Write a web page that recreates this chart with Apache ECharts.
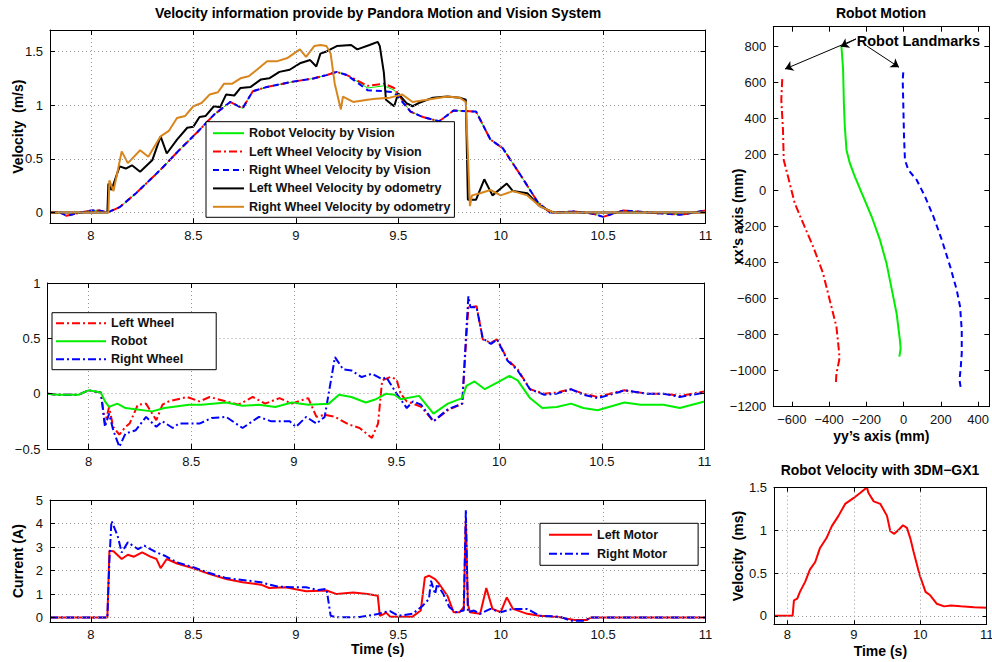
<!DOCTYPE html>
<html><head><meta charset="utf-8">
<script src="https://cdn.jsdelivr.net/npm/echarts@6/dist/echarts.min.js"></script>
<style>html,body{margin:0;padding:0;background:#fff}#c{width:992px;height:662px}</style>
</head><body><div id="c"></div>
<script>
// ---------- DATA ----------
// Top panel: velocity (m/s) vs time (s)
const robotVision = [[7.8,0],[7.85,0],[7.88,-0.03],[7.95,0],[8.0,0.02],[8.04,0.02],[8.08,0],[8.14,0.05],[8.22,0.18],[8.34,0.4],[8.43,0.58],[8.52,0.75],[8.6,0.91],[8.68,1.03],[8.74,0.97],[8.79,1.13],[8.86,1.17],[8.99,1.22],[9.09,1.25],[9.15,1.28],[9.2,1.31],[9.25,1.28],[9.35,1.16],[9.43,1.18],[9.48,1.14],[9.56,0.94],[9.62,0.89],[9.7,0.85],[9.77,0.95],[9.88,0.94],[9.95,0.68],[10.01,0.6],[10.1,0.34],[10.18,0.1],[10.24,0],[10.36,0.01],[10.45,-0.01],[10.5,-0.04],[10.6,0.02],[10.72,0],[10.88,-0.02],[11,0.02]];
const leftVision = [[7.8,0],[7.85,0],[7.88,-0.03],[7.95,0],[8.0,0.02],[8.04,0.02],[8.08,0],[8.14,0.05],[8.22,0.18],[8.34,0.4],[8.43,0.58],[8.52,0.75],[8.6,0.91],[8.68,1.03],[8.74,0.97],[8.79,1.13],[8.86,1.17],[8.99,1.22],[9.09,1.25],[9.15,1.28],[9.2,1.31],[9.25,1.28],[9.35,1.18],[9.43,1.2],[9.48,1.16],[9.56,0.94],[9.62,0.89],[9.7,0.85],[9.77,0.95],[9.88,0.94],[9.95,0.68],[10.01,0.6],[10.1,0.34],[10.18,0.1],[10.24,0],[10.36,0.01],[10.45,-0.01],[10.5,-0.04],[10.6,0.02],[10.72,0],[10.88,-0.02],[11,0.02]];
const rightVision = [[7.8,0],[7.85,0],[7.88,-0.03],[7.95,0],[8.0,0.02],[8.04,0.02],[8.08,0],[8.14,0.05],[8.22,0.18],[8.34,0.4],[8.43,0.58],[8.52,0.75],[8.6,0.91],[8.68,1.03],[8.74,0.97],[8.79,1.13],[8.86,1.17],[8.99,1.22],[9.09,1.25],[9.15,1.28],[9.2,1.31],[9.25,1.28],[9.35,1.14],[9.43,1.13],[9.48,1.12],[9.56,0.94],[9.62,0.89],[9.7,0.85],[9.77,0.95],[9.88,0.94],[9.95,0.68],[10.01,0.6],[10.1,0.34],[10.18,0.1],[10.24,0],[10.36,0.01],[10.45,-0.01],[10.5,-0.04],[10.6,0.02],[10.72,0],[10.88,-0.02],[11,0.02]];
const leftOdometry = [[7.8,0],[8.08,0],[8.085,0.27],[8.1,0.21],[8.14,0.43],[8.17,0.41],[8.2,0.44],[8.24,0.38],[8.3,0.49],[8.34,0.71],[8.37,0.55],[8.42,0.68],[8.47,0.79],[8.5,0.8],[8.53,0.89],[8.56,0.9],[8.6,0.99],[8.63,0.98],[8.66,1.1],[8.7,1.09],[8.73,1.16],[8.78,1.17],[8.83,1.24],[8.87,1.25],[8.92,1.31],[8.97,1.33],[9.02,1.39],[9.07,1.42],[9.1,1.36],[9.12,1.48],[9.15,1.5],[9.2,1.55],[9.27,1.56],[9.3,1.52],[9.36,1.56],[9.4,1.59],[9.41,1.55],[9.43,1.3],[9.44,1.05],[9.48,0.99],[9.5,1.11],[9.54,1.02],[9.57,0.99],[9.6,1.02],[9.67,1.07],[9.74,1.08],[9.8,1.07],[9.83,1.05],[9.84,0.12],[9.88,0.12],[9.92,0.31],[9.96,0.16],[10.03,0.27],[10.06,0.2],[10.13,0.18],[10.19,0.06],[10.26,0],[11,0]];
const rightOdometry = [[7.8,0],[8.085,0],[8.09,0.3],[8.11,0.2],[8.15,0.57],[8.18,0.46],[8.24,0.58],[8.28,0.52],[8.34,0.71],[8.38,0.76],[8.42,0.88],[8.46,0.9],[8.5,0.99],[8.54,1.02],[8.58,1.1],[8.62,1.12],[8.65,1.2],[8.69,1.2],[8.73,1.25],[8.77,1.27],[8.81,1.33],[8.86,1.41],[8.91,1.41],[8.96,1.44],[9.02,1.52],[9.05,1.45],[9.09,1.55],[9.12,1.56],[9.15,1.55],[9.17,1.48],[9.19,1.2],[9.22,0.96],[9.23,1.08],[9.28,1.03],[9.35,1.05],[9.39,1.06],[9.46,1.07],[9.52,1.1],[9.57,1.03],[9.64,1.05],[9.74,1.08],[9.8,1.07],[9.83,1.03],[9.85,0.06],[9.86,0.16],[9.9,0.18],[9.95,0.21],[10,0.16],[10.06,0.2],[10.13,0.16],[10.19,0.06],[10.26,0],[11,0]];

// Middle panel (no unit label)
const midLeftWheel = [[7.8,0],[7.85,-0.01],[7.95,-0.01],[8.0,0.03],[8.06,0.01],[8.08,-0.27],[8.1,-0.12],[8.12,-0.3],[8.15,-0.37],[8.18,-0.3],[8.2,-0.27],[8.24,-0.1],[8.28,-0.09],[8.33,-0.24],[8.36,-0.1],[8.39,-0.07],[8.48,-0.03],[8.54,-0.07],[8.59,-0.03],[8.67,-0.07],[8.73,-0.1],[8.8,-0.03],[8.86,-0.09],[8.93,-0.04],[8.99,-0.09],[9.07,-0.04],[9.11,-0.21],[9.15,-0.19],[9.2,-0.21],[9.27,-0.28],[9.32,-0.31],[9.38,-0.4],[9.41,-0.27],[9.43,0.12],[9.47,0.15],[9.5,0.13],[9.52,0],[9.55,-0.07],[9.58,-0.09],[9.62,-0.12],[9.68,-0.25],[9.75,-0.15],[9.82,-0.09],[9.84,0.51],[9.85,0.78],[9.89,0.79],[9.92,0.49],[9.96,0.46],[9.99,0.49],[10.04,0.31],[10.09,0.22],[10.15,0.04],[10.22,0],[10.28,0.01],[10.35,0.04],[10.41,0],[10.48,-0.03],[10.56,0.01],[10.61,0.03],[10.72,0],[10.8,0],[10.88,-0.02],[11,0.02]];
const midRobot = [[7.8,0],[7.85,-0.01],[7.95,-0.01],[8.0,0.03],[8.06,0.01],[8.08,-0.07],[8.1,-0.12],[8.14,-0.09],[8.18,-0.13],[8.31,-0.16],[8.37,-0.13],[8.49,-0.1],[8.55,-0.1],[8.67,-0.08],[8.75,-0.11],[8.83,-0.1],[8.91,-0.12],[8.99,-0.08],[9.07,-0.1],[9.17,-0.09],[9.22,-0.01],[9.28,-0.03],[9.35,-0.08],[9.4,-0.05],[9.45,0.0],[9.49,-0.01],[9.52,-0.05],[9.61,-0.02],[9.68,-0.18],[9.75,-0.09],[9.82,-0.04],[9.84,0.07],[9.88,0.11],[9.93,0.04],[9.99,0.1],[10.05,0.16],[10.09,0.12],[10.15,-0.04],[10.21,-0.13],[10.28,-0.12],[10.35,-0.09],[10.41,-0.13],[10.48,-0.15],[10.61,-0.08],[10.69,-0.1],[10.8,-0.1],[10.88,-0.13],[11,-0.07]];
const midRightWheel = [[7.8,0],[7.85,-0.01],[7.95,-0.01],[8.0,0.03],[8.06,0.01],[8.08,-0.3],[8.1,-0.18],[8.12,-0.33],[8.15,-0.48],[8.18,-0.36],[8.23,-0.33],[8.28,-0.21],[8.33,-0.3],[8.36,-0.25],[8.41,-0.31],[8.44,-0.27],[8.54,-0.27],[8.6,-0.22],[8.67,-0.21],[8.75,-0.31],[8.83,-0.21],[8.89,-0.25],[8.98,-0.25],[9.01,-0.3],[9.06,-0.21],[9.11,-0.27],[9.15,-0.21],[9.2,0.33],[9.24,0.22],[9.28,0.21],[9.33,0.15],[9.38,0.18],[9.43,0.13],[9.45,0.15],[9.47,0.09],[9.5,0],[9.55,-0.13],[9.58,-0.07],[9.62,-0.1],[9.68,-0.25],[9.75,-0.14],[9.82,-0.09],[9.84,0.57],[9.85,0.88],[9.86,0.78],[9.89,0.78],[9.92,0.5],[9.96,0.45],[9.99,0.49],[10.04,0.3],[10.09,0.21],[10.15,0.04],[10.22,-0.01],[10.28,0.0],[10.35,0.04],[10.41,-0.01],[10.48,-0.04],[10.56,0.0],[10.61,0.03],[10.72,0.0],[10.8,0.0],[10.88,-0.03],[11,0.01]];

// Bottom panel: current (A)
const leftMotor = [[7.8,0],[8.08,0],[8.09,2.84],[8.11,2.82],[8.15,2.49],[8.18,2.67],[8.21,2.59],[8.25,2.77],[8.29,2.59],[8.32,2.49],[8.34,2.1],[8.37,2.49],[8.42,2.3],[8.5,2.1],[8.58,1.85],[8.66,1.64],[8.74,1.5],[8.83,1.4],[8.87,1.26],[8.95,1.29],[9.05,1.12],[9.15,1.15],[9.2,1.0],[9.28,1.07],[9.35,1.0],[9.4,0.93],[9.41,0.08],[9.43,0.15],[9.44,0.22],[9.46,0.04],[9.57,0.04],[9.61,0.3],[9.63,1.71],[9.65,1.78],[9.68,1.64],[9.7,1.43],[9.74,0.93],[9.77,0.23],[9.8,0.23],[9.82,0.44],[9.83,4.19],[9.84,0.58],[9.85,0.23],[9.9,0.16],[9.93,1.26],[9.96,0.37],[10,0.23],[10.03,0.86],[10.06,0.37],[10.13,0.16],[10.19,0.08],[10.29,0.01],[10.36,-0.1],[10.42,-0.1],[10.44,0],[11,0]];
const rightMotor = [[7.8,0],[8.08,0],[8.09,2.42],[8.1,4.12],[8.13,3.48],[8.15,2.77],[8.18,3.2],[8.23,2.91],[8.26,3.06],[8.29,2.91],[8.32,2.77],[8.36,2.63],[8.42,2.35],[8.5,2.14],[8.57,1.92],[8.66,1.68],[8.74,1.6],[8.83,1.5],[8.91,1.32],[8.99,1.29],[9.05,1.29],[9.11,1.17],[9.15,1.22],[9.17,0.08],[9.2,0.01],[9.3,0.01],[9.35,0.08],[9.4,0.15],[9.43,0.23],[9.46,0.27],[9.5,0.08],[9.57,0.16],[9.62,0.51],[9.65,0.79],[9.66,1.57],[9.68,1.0],[9.69,1.43],[9.72,1.0],[9.75,0.44],[9.78,0.23],[9.82,0.3],[9.83,4.57],[9.84,0.23],[9.87,0.3],[9.9,0.16],[9.95,0.37],[10,0.23],[10.06,0.37],[10.13,0.37],[10.19,0.08],[10.29,0.04],[10.34,-0.13],[10.41,-0.13],[10.44,0],[11,0]];

// Robot motion: [yy (mm), xx (mm)]
const leftLandmarkPath = [[-652,619],[-657,504],[-648,337],[-644,170],[-621,78],[-585,-70],[-540,-181],[-486,-311],[-433,-459],[-397,-607],[-361,-756],[-346,-904],[-346,-941],[-361,-1015],[-364,-1070]];
const robotPath = [[-334,800],[-325,670],[-321,485],[-316,356],[-307,226],[-289,152],[-262,78],[-217,-33],[-172,-144],[-127,-274],[-92,-404],[-56,-589],[-38,-681],[-20,-830],[-16,-876],[-23,-922]];
const rightLandmarkPath = [[-2,656],[-5,615],[-2,485],[2,300],[7,170],[25,115],[70,59],[115,-33],[160,-144],[205,-274],[250,-422],[285,-552],[303,-644],[312,-774],[312,-904],[307,-978],[300,-1052],[307,-1098]];
const landmarkArrows = [[[-256,842],[-637,675]],[[-256,842],[-338,799]],[[-198,803],[-25,685]]];
const landmarkLabel = [-252,833];

// Robot velocity with 3DM-GX1
const gx1Velocity = [[7.8,0],[8.08,0],[8.1,0.18],[8.15,0.2],[8.19,0.28],[8.27,0.4],[8.34,0.54],[8.42,0.63],[8.49,0.79],[8.59,0.91],[8.67,1.05],[8.77,1.17],[8.87,1.31],[9.0,1.38],[9.1,1.44],[9.16,1.48],[9.2,1.5],[9.22,1.44],[9.3,1.34],[9.4,1.31],[9.5,1.17],[9.55,0.99],[9.61,0.96],[9.68,1.01],[9.74,1.06],[9.8,1.03],[9.85,0.91],[9.9,0.75],[9.99,0.48],[10.08,0.28],[10.15,0.24],[10.25,0.14],[10.36,0.11],[10.46,0.12],[10.61,0.11],[10.81,0.1],[11,0.095]];

// Tick values
const timeTicks = [8,8.5,9,9.5,10,10.5,11];
const velTicks = [0,0.5,1,1.5];
const midTicks = [-0.5,0,0.5,1];
const curTicks = [0,1,2,3,4,5];
const yyTicks = [-600,-400,-200,0,200,400];
const xxTicks = [-1200,-1000,-800,-600,-400,-200,0,200,400,600,800];
const gxTimeTicks = [8,9,10,11];

// ---------- CHART ----------
const FONT = '"Liberation Sans", Arial, Helvetica, sans-serif';
const fmt = v => (v < 0 ? '\u2212' + String(-v) : String(v));
const xAxes = [], yAxes = [];
function mkAxis(dim, gi, min, max, ticks, main, o) {
  o = o || {};
  const ax = {
    type: 'value', gridIndex: gi, min: min, max: max,
    position: dim === 'x' ? (main ? 'bottom' : 'top') : (main ? 'left' : 'right'),
    axisLine: {show: true, onZero: false, lineStyle: {color: '#000', width: 1}},
    axisTick: {show: true, inside: true, length: o.tickLen || 5, customValues: ticks, lineStyle: {color: '#000', width: 1}},
    axisLabel: {show: main, customValues: ticks, formatter: fmt, color: '#111', fontSize: 13, fontFamily: FONT, margin: o.labelMargin || (dim === 'x' ? 6 : 7), hideOverlap: false},
    splitLine: {show: false},
    z: 5
  };
  if (main && o.grid) ax.splitLine = {show: true, lineStyle: {color: '#999', type: [1, 3], width: 1}};
  if (main && o.name) {
    ax.name = o.name; ax.nameLocation = 'middle'; ax.nameGap = o.gap; ax.nameMoveOverlap = false;
    ax.nameTextStyle = {fontSize: 14, fontWeight: 'bold', fontFamily: FONT, color: '#000'};
  }
  const arr = dim === 'x' ? xAxes : yAxes;
  arr.push(ax);
  return arr.length - 1;
}
function axes(gi, xr, xt, yr, yt, o) {
  const xi = mkAxis('x', gi, xr[0], xr[1], xt, true, {grid: o.grid, name: o.xName, gap: o.xGap, tickLen: o.tickLen, labelMargin: o.xMargin});
  mkAxis('x', gi, xr[0], xr[1], xt, false, {tickLen: o.tickLen});
  const yi = mkAxis('y', gi, yr[0], yr[1], yt, true, {grid: o.grid, name: o.yName, gap: o.yGap, tickLen: o.tickLen});
  mkAxis('y', gi, yr[0], yr[1], yt, false, {tickLen: o.tickLen});
  return [xi, yi];
}
const grids = [
  {left: 50, top: 30, width: 655.5, height: 193.3},
  {left: 47.5, top: 283, width: 657, height: 166},
  {left: 50, top: 500, width: 655.5, height: 122.3},
  {left: 773.3, top: 26.7, width: 216, height: 380},
  {left: 774, top: 487.7, width: 212.7, height: 136.6}
].map(g => Object.assign({show: false, outerBoundsMode: 'none', containLabel: false}, g));

const A0 = axes(0, [7.8, 11], timeTicks, [-0.1, 1.7], velTicks, {grid: true, yName: 'Velocity  (m/s)', yGap: 25});
const A1 = axes(1, [7.8, 11], timeTicks, [-0.5, 1], midTicks, {grid: true});
const A2 = axes(2, [7.8, 11], timeTicks, [-0.2, 5], curTicks, {grid: true, yName: 'Current (A)', yGap: 25, xName: 'Time (s)', xGap: 20});
const A3 = axes(3, [-700, 460], yyTicks, [-1200, 910], xxTicks, {grid: false, yName: 'xx\u2019s axis (mm)', yGap: 28, xName: 'yy\u2019s axis (mm)', xGap: 22});
const A4 = axes(4, [7.8, 11], gxTimeTicks, [-0.1, 1.5], velTicks, {grid: true, yName: 'Velocity  (ms)', yGap: 29, xName: 'Time (s)', xGap: 20, xMargin: 4, tickLen: 4});

const DASHDOT = [8, 3, 2, 3];
const DASH = [6, 4];
function line(name, data, A, color, width, type, z) {
  return {type: 'line', name: name, data: data, xAxisIndex: A[0], yAxisIndex: A[1],
    symbol: 'none', showSymbol: false, animation: false, silent: true,
    lineStyle: {color: color, width: width, type: type}, itemStyle: {color: color},
    emphasis: {disabled: true}, z: z || 2};
}
const ORANGE = '#d8861c';
const series = [
  line('Robot Velocity by Vision', robotVision, A0, '#00ee00', 1, 'solid', 2),
  line('Left Wheel Velocity by Vision', leftVision, A0, '#ff0000', 2, DASHDOT, 2),
  line('Right Wheel Velocity by Vision', rightVision, A0, '#0000ff', 2, DASH, 2),
  line('Left Wheel Velocity by odometry', leftOdometry, A0, '#000000', 2, 'solid', 3),
  line('Right Wheel Velocity by odometry', rightOdometry, A0, ORANGE, 2, 'solid', 3),
  line('Left Wheel', midLeftWheel, A1, '#ff0000', 2, DASHDOT, 2),
  line('Right Wheel', midRightWheel, A1, '#0000ff', 2, DASHDOT, 2),
  line('Robot', midRobot, A1, '#00ee00', 2, 'solid', 3),
  line('Left Motor', leftMotor, A2, '#ff0000', 2, 'solid', 2),
  line('Right Motor', rightMotor, A2, '#0000ff', 2, DASHDOT, 3),
  line('left landmark', leftLandmarkPath, A3, '#ff0000', 2, DASHDOT, 2),
  line('right landmark', rightLandmarkPath, A3, '#0000ff', 2, DASH, 2),
  Object.assign(line('robot path', robotPath, A3, '#00ee00', 2, 'solid', 2), {
    markLine: {silent: true, symbol: ['none', 'arrow'], symbolSize: 8, animation: false,
      lineStyle: {color: '#000', width: 1, type: 'solid'}, itemStyle: {color: '#000'}, label: {show: false}, emphasis: {disabled: true},
      data: landmarkArrows.map(s => [{coord: s[0]}, {coord: s[1]}])},
    markPoint: {silent: true, symbol: 'circle', symbolSize: 0, animation: false,
      data: [{coord: landmarkLabel, label: {show: true, formatter: 'Robot Landmarks', position: 'right', distance: 0,
        fontSize: 14.5, fontWeight: 'bold', fontFamily: FONT, color: '#000'}}]}
  }),
  line('GX1 velocity', gx1Velocity, A4, '#ff0000', 2, 'solid', 2)
];
const legTop = ['Robot Velocity by Vision', 'Left Wheel Velocity by Vision', 'Right Wheel Velocity by Vision', 'Left Wheel Velocity by odometry', 'Right Wheel Velocity by odometry'];
const legMid = ['Left Wheel', 'Robot', 'Right Wheel'];
const legBot = ['Left Motor', 'Right Motor'];
const legBase = {orient: 'vertical', selectedMode: false, borderColor: '#000', borderWidth: 1, backgroundColor: '#fff', borderRadius: 0,
  itemHeight: 14, itemStyle: {opacity: 0, color: 'transparent', borderWidth: 0},
  textStyle: {fontSize: 12.5, fontWeight: 'bold', fontFamily: FONT, color: '#111'}, z: 10};
const titleStyle = {fontSize: 14, fontWeight: 'bold', fontFamily: FONT, color: '#000'};
const option = {
  backgroundColor: '#fff',
  animation: false,
  title: [
    {text: 'Velocity information provide by Pandora Motion and Vision System', left: 378, top: 6, textAlign: 'center', padding: 0, textStyle: titleStyle},
    {text: 'Robot Motion', left: 881, top: 6, textAlign: 'center', padding: 0, textStyle: titleStyle},
    {text: 'Robot Velocity with 3DM\u2212GX1', left: 880, top: 463, textAlign: 'center', padding: 0, textStyle: titleStyle}
  ],
  grid: grids,
  xAxis: xAxes,
  yAxis: yAxes,
  legend: [
    Object.assign({}, legBase, {data: legTop, left: 206, top: 121.7, itemWidth: 31, itemGap: 5.4, padding: [5, 4, 4, 6]}),
    Object.assign({}, legBase, {data: legMid, left: 52, top: 312.7, itemWidth: 50, itemGap: 5, padding: [4, 33, 4, 3]}),
    Object.assign({}, legBase, {data: legBot, left: 540, top: 523.3, itemWidth: 43, itemGap: 6, padding: [5, 31, 5, 8]})
  ],
  series: series
};
const chart = echarts.init(document.getElementById('c'), null, {renderer: 'svg'});
chart.setOption(option);
</script>
</body></html>
